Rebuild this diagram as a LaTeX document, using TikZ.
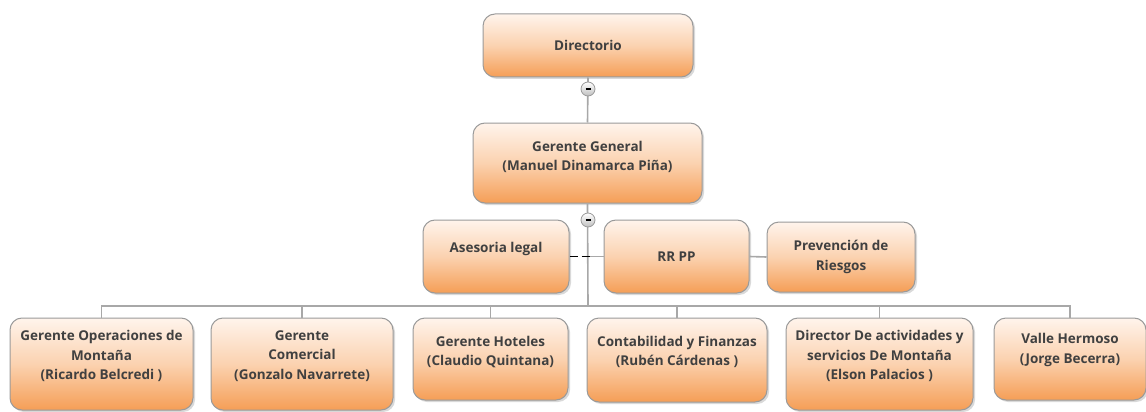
\documentclass[tikz,border=0pt]{standalone}
\usepackage{fontspec}
\setmainfont{Open Sans}
\usetikzlibrary{positioning, shadows, calc}
\definecolor{boxtop}{HTML}{FFF4EC}
\definecolor{boxmid}{HTML}{FBD2B0}
\definecolor{boxbottom}{HTML}{F59E56}
\definecolor{boxline}{HTML}{9A9A9A}
\definecolor{linegray}{HTML}{A8A8A8}
\definecolor{textgray}{HTML}{404040}

\begin{document}
\begin{tikzpicture}[x=1pt, y=-1pt,
    unit/.style={rectangle, rounded corners=12pt, draw=boxline, line width=1pt,
                 top color=boxtop, bottom color=boxbottom, middle color=boxmid,
                 drop shadow={shadow xshift=2pt, shadow yshift=-2pt, opacity=0.3}},
    txt/.style={align=center, font=\fontsize{13.5}{19.5}\selectfont\bfseries, text=textgray},
    conn/.style={draw=linegray, line width=1.6pt},
    toggle/.style={circle, draw=boxline, line width=0.8pt, minimum size=14pt, inner sep=0pt,
                   top color=white, bottom color=black!25}
]
\useasboundingbox (0,0) rectangle (1146,412);

% Top levels
\node[unit, minimum width=210pt, minimum height=63pt,
      label={[txt]center:Directorio}] (dir) at (588,45.5) {};
\node[unit, minimum width=229pt, minimum height=80pt,
      label={[txt, yshift=6pt]center:{Gerente General\\(Manuel Dinamarca Piña)}}] (gg) at (587.5,163) {};

% Staff units
\node[unit, minimum width=146pt, minimum height=73pt,
      label={[txt, yshift=8pt]center:Asesoria legal}] (ase) at (496,256.5) {};
\node[unit, minimum width=145pt, minimum height=73pt,
      label={[txt]center:RR PP}] (rr) at (676.5,256.5) {};
\node[unit, minimum width=148pt, minimum height=70pt,
      label={[txt]center:{Prevención de\\Riesgos}}] (prev) at (841,257) {};

% Line managers
\node[unit, minimum width=183pt, minimum height=92pt,
      label={[txt, yshift=8pt]center:{Gerente Operaciones de\\Montaña\\(Ricardo Belcredi )}}] (b1) at (101.5,364) {};
\node[unit, minimum width=182pt, minimum height=92pt,
      label={[txt, yshift=8pt]center:{Gerente\\Comercial\\(Gonzalo Navarrete)}}] (b2) at (302,364) {};
\node[unit, minimum width=155pt, minimum height=82pt,
      label={[txt, yshift=7pt]center:{Gerente Hoteles\\(Claudio Quintana)}}] (b3) at (490.5,359) {};
\node[unit, minimum width=180pt, minimum height=84pt,
      label={[txt, yshift=8pt]center:{Contabilidad y Finanzas\\(Rubén Cárdenas )}}] (b4) at (677,360) {};
\node[unit, minimum width=187pt, minimum height=92pt,
      label={[txt, yshift=8pt]center:{Director De actividades y\\servicios De Montaña\\(Elson Palacios )}}] (b5) at (879.5,364) {};
\node[unit, minimum width=152pt, minimum height=82pt,
      label={[txt, yshift=9pt]center:{Valle Hermoso\\(Jorge Becerra)}}] (b6) at (1070,359) {};

% Connectors
\coordinate (bus) at (588,306);
\draw[conn] (dir.south) -- (gg.north);
\draw[conn] (gg.south) -- (bus);
\draw[conn] (gg.south |- rr.west) -- (rr.west);
\draw[conn] (rr.east) -- (prev.west);
\draw[black, line width=1.8pt, dash pattern=on 8pt off 4pt] (ase.east) -- ($(ase.east -| gg.south)+(5,0)$);
\foreach \b in {b1,b2,b3,b4,b5,b6}
    \draw[conn] (bus) -| (\b.north);

% Collapse toggles
\node[toggle] (t1) at (588,89) {\textcolor{black}{\rule{5pt}{1.8pt}}};
\node[toggle] (t2) at (588,220) {\textcolor{black}{\rule{5pt}{1.8pt}}};
\end{tikzpicture}
\end{document}
